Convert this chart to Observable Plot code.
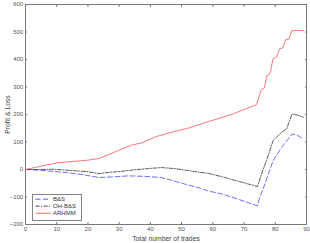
<!DOCTYPE html>
<html><head><meta charset="utf-8">
<script src="https://cdn.jsdelivr.net/npm/d3@7"></script>
<script src="https://cdn.jsdelivr.net/npm/@observablehq/plot@0.6"></script>
<style>
body{margin:0;background:#fff;}
#wrap{position:relative;width:310px;height:243px;}
g[aria-label="x-axis label"] text, g[aria-label="y-axis label"] text{font-size:6.8px;fill:#444;}
</style>
</head><body>
<div id="wrap"></div>
<script>
// Series names and styles
const seriesNames = ["B&S", "OH-B&S", "ARHMM"];
const seriesColors = ["#4a4aff", "#333333", "#ff5555"];
const seriesDash = ["5,2.5", "4,1.5,1,1.5", null];

// B&S
const tradesBS = [0, 5, 9, 13, 18, 23.5, 28, 33, 38, 43.5, 47, 51, 55, 58.5, 62.5, 65, 74.3, 75, 76.1, 79.3, 82, 85.4, 87, 89];
const pnlBS    = [0, -3, -7, -11, -18, -29, -27, -23, -25, -29, -40, -53, -65, -78, -88, -96, -132, -102, -71, 32, 80, 129, 125, 111];

// OH-B&S
const tradesOH = [0, 5, 9, 15, 20, 23.5, 27, 30.5, 35, 40, 43.5, 48, 54, 58.5, 62.5, 66, 74.3, 76.1, 77.2, 79.3, 82, 83.6, 85.4, 87, 89];
const pnlOH    = [0, 0, 1, -4, -8, -15, -10, -7, -1, 4, 7, 3, -7, -14, -25, -36, -62, 1, 32, 105, 135, 147, 202, 198, 190];

// ARHMM
const tradesAR = [0, 5, 10, 15, 20, 23.5, 27, 30, 34, 37, 42, 45, 52, 58, 66, 74, 75.5, 76.5, 77.3, 78.3, 79.3, 80.4, 81.4, 82.5, 83.3, 84.4, 85.2, 87, 89];
const pnlAR    = [0, 12, 24, 29, 34, 40, 56, 70, 89, 96, 120, 130, 150, 172, 200, 236, 290, 297, 342, 348, 403, 409, 439, 443, 472, 474, 504, 506, 505];

// Ticks
const xTicks = [0, 10, 20, 30, 40, 50, 60, 70, 80, 90];
const yTicks = [-200, -100, 0, 100, 200, 300, 400, 500, 600];

const allTrades = [tradesBS, tradesOH, tradesAR];
const allPnl = [pnlBS, pnlOH, pnlAR];
const rows = [];
seriesNames.forEach((name, i) => {
  allTrades[i].forEach((t, j) => rows.push({series: name, x: t, y: allPnl[i][j]}));
});

const axisColor = "#777";
const chart = Plot.plot({
  width: 310,
  height: 243,
  marginLeft: 25,
  marginRight: 4,
  marginTop: 4,
  marginBottom: 19,
  style: {fontFamily: "'Liberation Sans', Arial, sans-serif", fontSize: "6px", color: "#555", background: "#fff"},
  x: {domain: [0, 90]},
  y: {domain: [-200, 600]},
  marks: [
    Plot.frame({stroke: axisColor}),
    ...seriesNames.map((name, i) => Plot.line(rows.filter(d => d.series === name), {
      x: "x", y: "y", stroke: seriesColors[i], strokeWidth: 0.8, strokeDasharray: seriesDash[i]
    })),
    Plot.axisX(xTicks, {anchor: "bottom", tickSize: -2, tickPadding: 4.5, stroke: axisColor,
      label: "Total number of trades", labelAnchor: "center", labelOffset: 16, labelArrow: "none"}),
    Plot.axisX(xTicks, {anchor: "top", tickSize: -2, tickFormat: () => "", stroke: axisColor, label: null}),
    Plot.axisY(yTicks, {anchor: "left", tickSize: -2, tickPadding: 4.3, stroke: axisColor,
      label: "Profit & Loss", labelAnchor: "center", labelOffset: 20.5, labelArrow: "none"}),
    Plot.axisY(yTicks, {anchor: "right", tickSize: -2, tickFormat: () => "", stroke: axisColor, label: null})
  ]
});
const wrap = document.getElementById("wrap");
wrap.appendChild(chart);

// Legend
const lw = 49, lh = 26;
const leg = d3.create("svg").attr("width", lw + 1).attr("height", lh + 1)
  .style("position", "absolute").style("left", "31.5px").style("top", "193.5px");
leg.append("rect").attr("x", 0.5).attr("y", 0.5).attr("width", lw).attr("height", lh)
  .attr("fill", "#fff").attr("stroke", axisColor).attr("stroke-width", 0.9);
seriesNames.forEach((name, i) => {
  const cy = 5.2 + i * 7;
  leg.append("line").attr("x1", 3.5).attr("x2", 18.5).attr("y1", cy).attr("y2", cy)
    .attr("stroke", seriesColors[i]).attr("stroke-width", 0.9)
    .attr("stroke-dasharray", seriesDash[i]);
  leg.append("text").attr("x", 21).attr("y", cy).attr("dy", "0.35em")
    .attr("font-family", "'Liberation Sans', Arial, sans-serif").attr("font-size", 6)
    .attr("fill", "#333").text(name);
});
wrap.appendChild(leg.node());
</script>
</body></html>
